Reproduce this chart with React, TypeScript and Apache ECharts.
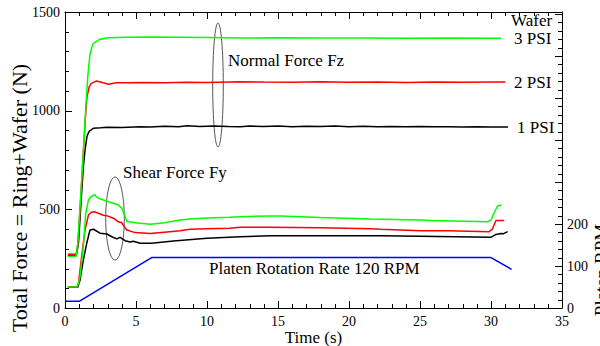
import React, { useEffect, useRef } from "react";
import * as echarts from "echarts";

// Time (s) vs force (N) — normal force curves
const normal1Psi: [number, number][] = [
  [0.2, 265], [0.8, 265], [0.95, 330], [1.15, 560], [1.3, 720], [1.41, 800], [1.55, 870], [1.7, 895],
  [2.0, 911], [2.5, 913], [3, 916], [4, 915], [5.3, 919], [6, 917], [7, 921], [8, 919], [8.6, 924],
  [9.5, 920], [10.5, 922], [11.5, 920], [12.35, 919], [13, 922], [14, 920], [15, 922], [16, 919],
  [17, 921], [18, 920], [19, 922], [20, 919], [21, 921], [22, 919], [23, 920], [24, 918], [25, 920],
  [26, 918], [27, 919], [28, 917], [29, 918], [30, 917], [31.2, 917],
];
const normal2Psi: [number, number][] = [
  [0.2, 272], [0.78, 272], [0.9, 320], [1.1, 550], [1.3, 800], [1.45, 980], [1.55, 1070], [1.7, 1120],
  [1.85, 1138], [2.2, 1150], [2.5, 1145], [3.06, 1134], [3.6, 1142], [4.5, 1141], [5.5, 1143],
  [7, 1142], [8.5, 1144], [10, 1143], [12.35, 1147], [14, 1145], [16, 1144], [18, 1146], [20, 1144],
  [22, 1145], [24, 1143], [26, 1145], [28, 1144], [30, 1145], [31.0, 1145],
];
const normal3Psi: [number, number][] = [
  [0.2, 262], [0.78, 262], [0.9, 330], [1.1, 560], [1.3, 800], [1.45, 1000], [1.6, 1170], [1.75, 1280],
  [1.9, 1325], [2.0, 1341], [2.47, 1362], [3, 1370], [4.35, 1372], [6, 1373], [8, 1372], [10, 1371],
  [12.35, 1368], [15, 1369], [18, 1368], [21, 1368], [24, 1367], [27, 1368], [30, 1367], [30.7, 1367],
];

// Shear force curves
const shear1Psi: [number, number][] = [
  [0.2, 105], [0.9, 105], [1.06, 142], [1.29, 243], [1.53, 328], [1.76, 395], [2.0, 399], [2.47, 379],
  [2.94, 375], [3.3, 361], [3.65, 350], [3.88, 358], [4.23, 341], [4.59, 334], [4.8, 338], [5.3, 328],
  [6.1, 328], [7.64, 339], [10.0, 353], [12.35, 361], [14.47, 366], [18, 366], [22.23, 366], [25, 363],
  [29.99, 358], [30.35, 373], [30.7, 378], [30.85, 376], [31.17, 387],
];
const shear2Psi: [number, number][] = [
  [0.2, 108], [0.85, 108], [0.95, 125], [1.17, 260], [1.41, 395], [1.65, 471], [1.85, 485], [2.07, 488],
  [2.35, 480], [2.7, 470], [2.94, 468], [3.41, 455], [3.76, 437], [4.0, 432], [4.2, 410], [4.35, 395],
  [4.94, 382], [6.0, 377], [7, 384], [8.1, 392], [8.8, 399], [10, 402], [11.6, 404], [12.35, 409],
  [14.47, 409], [18, 407], [21.5, 402], [22.23, 399], [25.05, 392], [27, 391], [29.87, 387],
  [30.1, 400], [30.35, 443], [30.93, 443],
];
const shear3Psi: [number, number][] = [
  [0.2, 106], [0.85, 106], [0.95, 125], [1.06, 159], [1.29, 311], [1.46, 480], [1.65, 547], [1.85, 565],
  [2.07, 573], [2.35, 556], [2.7, 547], [3.0, 540], [3.41, 531], [3.76, 522], [4.0, 505], [4.2, 470],
  [4.35, 440], [4.94, 432], [6.0, 424], [7, 432], [8.1, 446], [8.8, 451], [10, 456], [11.6, 460],
  [12.35, 463], [14.47, 466], [15.2, 466], [18, 458], [21.5, 451], [25.05, 446], [25.76, 443],
  [29.76, 437], [30.0, 445], [30.2, 480], [30.46, 517], [30.75, 522],
];

// Platen rotation rate (RPM)
const platenRpm: [number, number][] = [
  [0, 16], [1.0, 16], [6.1, 120], [30.0, 120], [31.45, 92],
];

const xTicks = { min: 0, max: 35, interval: 5 };
const forceTicks = { min: 0, max: 1500, interval: 500 };
const rpmTicks = { min: 0, max: 705, interval: 100 };
const rpmLabelled = [0, 100, 200];

const FONT = "Liberation Serif";
const W = 600, H = 346;
const GRID = { left: 65, right: 38, top: 12, bottom: 38 };

const steps = (min: number, max: number, step: number) => {
  const out: number[] = [];
  for (let v = min; v <= max + 1e-9; v += step) out.push(Math.round(v * 1000) / 1000);
  return out;
};

export default function App() {
  const ref = useRef<HTMLDivElement>(null);
  useEffect(() => {
    document.body.style.margin = "0";
    if (!ref.current) return;
    const chart = echarts.init(ref.current, undefined, { renderer: "svg" });
    const axisLine = { show: true, onZero: false, lineStyle: { color: "#000", width: 1 } };
    const label = { color: "#000", fontFamily: FONT, fontSize: 14 };
    const line = (data: [number, number][], color: string, yAxisIndex = 0) => ({
      type: "line",
      data,
      yAxisIndex,
      showSymbol: false,
      symbol: "none",
      lineStyle: { color, width: 1.5 },
      itemStyle: { color },
    });

    // inward tick marks as polylines through the axes' own scales
    const MAJ = 7, MIN = 4;
    type T = { v: number; len: number };
    const xT: T[] = steps(xTicks.min, xTicks.max, 1).map((v) => ({ v, len: v % xTicks.interval === 0 ? MAJ : MIN }));
    const fT: T[] = steps(forceTicks.min, forceTicks.max, forceTicks.interval / 5).map((v) => ({ v, len: v % forceTicks.interval === 0 ? MAJ : MIN }));
    const rT: T[] = steps(rpmTicks.min, 700, rpmTicks.interval / 5).map((v) => ({ v, len: v % rpmTicks.interval === 0 ? MAJ : MIN }));

    const tickGroup = (api: any) => {
      const children: any[] = [];
      const push = (x1: number, y1: number, x2: number, y2: number) =>
        children.push({ type: "line", shape: { x1, y1, x2, y2 }, style: { stroke: "#000", lineWidth: 1 }, z2: 100 });
      xT.forEach(({ v, len }) => {
        const b = api.coord([v, forceTicks.min]);
        const t = api.coord([v, forceTicks.max]);
        const x = Math.round(b[0]) + 0.5;
        push(x, b[1], x, b[1] - len);
        push(x, t[1], x, t[1] + len);
      });
      fT.forEach(({ v, len }) => {
        const p = api.coord([xTicks.min, v]);
        const y = Math.round(p[1]) + 0.5;
        push(p[0], y, p[0] + len, y);
      });
      return children;
    };
    const rpmGroup = (api: any) => {
      const children: any[] = [];
      rT.forEach(({ v, len }) => {
        const p = api.coord([xTicks.max, v]);
        const y = Math.round(p[1]) + 0.5;
        children.push({ type: "line", shape: { x1: p[0], y1: y, x2: p[0] - len, y2: y }, style: { stroke: "#000", lineWidth: 1 }, z2: 100 });
      });
      return children;
    };
    const tickSeries = (yAxisIndex: number, build: (api: any) => any[]) => ({
      type: "custom",
      coordinateSystem: "cartesian2d",
      yAxisIndex,
      data: [[xTicks.min, yAxisIndex === 0 ? forceTicks.min : rpmTicks.min]],
      encode: { x: 0, y: 1 },
      renderItem: (_p: any, api: any) => ({ type: "group", children: build(api) }),
      silent: true,
      clip: false,
      z: 50,
    });

    chart.setOption({
      animation: false,
      grid: { ...GRID, outerBoundsMode: "none", containLabel: false },
      xAxis: [
        {
          type: "value", ...xTicks, position: "bottom",
          axisLine, axisTick: { show: false }, minorTick: { show: false }, splitLine: { show: false },
          axisLabel: { ...label, margin: 6, formatter: (v: number) => String(v) },
          name: "Time (s)", nameLocation: "middle", nameGap: 21, nameMoveOverlap: false,
          nameTextStyle: { color: "#000", fontFamily: FONT, fontSize: 17, fontWeight: "normal" },
        },
        {
          type: "value", ...xTicks, position: "top",
          axisLine, axisTick: { show: false }, minorTick: { show: false }, splitLine: { show: false },
          axisLabel: { show: false },
        },
      ],
      yAxis: [
        {
          type: "value", ...forceTicks, position: "left",
          axisLine, axisTick: { show: false }, minorTick: { show: false }, splitLine: { show: false },
          axisLabel: { ...label, margin: 5, formatter: (v: number) => String(v) },
        },
        {
          type: "value", ...rpmTicks, position: "right",
          axisLine, axisTick: { show: false }, minorTick: { show: false }, splitLine: { show: false },
          axisLabel: {
            ...label, margin: 5,
            formatter: (v: number) => (rpmLabelled.includes(v) ? String(v) : ""),
          },
        },
      ],
      series: [
        line(normal1Psi, "#000000"),
        line(normal2Psi, "#ff0000"),
        line(normal3Psi, "#00ff00"),
        line(shear1Psi, "#000000"),
        line(shear2Psi, "#ff0000"),
        line(shear3Psi, "#00ff00"),
        line(platenRpm, "#0000ff", 1),
        tickSeries(0, tickGroup),
        tickSeries(1, rpmGroup),
      ],
      graphic: [
        { type: "ellipse", shape: { cx: 218, cy: 85, rx: 5.3, ry: 62 }, style: { fill: "none", stroke: "#555", lineWidth: 1 } },
        { type: "ellipse", shape: { cx: 115, cy: 218.5, rx: 9.3, ry: 41.5 }, style: { fill: "none", stroke: "#555", lineWidth: 1 } },
        ...[
          { t: "Normal Force Fz", x: 228, y: 60 },
          { t: "Shear Force Fy", x: 123, y: 172 },
          { t: "Platen Rotation Rate 120 RPM", x: 209, y: 268 },
          { t: "Wafer", x: 511, y: 20 },
          { t: "3 PSI", x: 514, y: 38 },
          { t: "2 PSI", x: 514, y: 82 },
          { t: "1 PSI", x: 517, y: 127 },
        ].map((d) => ({
          type: "text", x: d.x, y: d.y,
          style: { text: d.t, fontSize: 17, fontFamily: FONT, fill: "#000", align: "left", verticalAlign: "middle" },
        })),
        {
          type: "text", x: 19, y: 198, rotation: Math.PI / 2,
          style: { text: "Total Force = Ring+Wafer (N)", fontSize: 22, fontFamily: FONT, fill: "#000", align: "center", verticalAlign: "middle" },
        },
        {
          type: "text", x: 601, y: 270, rotation: Math.PI / 2,
          style: { text: "Platen RPM", fontSize: 19, fontFamily: FONT, fill: "#000", align: "center", verticalAlign: "middle" },
        },
      ],
    });
    return () => chart.dispose();
  }, []);
  return <div ref={ref} style={{ position: "absolute", left: 0, top: 0, width: W, height: H, background: "#fff" }} />;
}
